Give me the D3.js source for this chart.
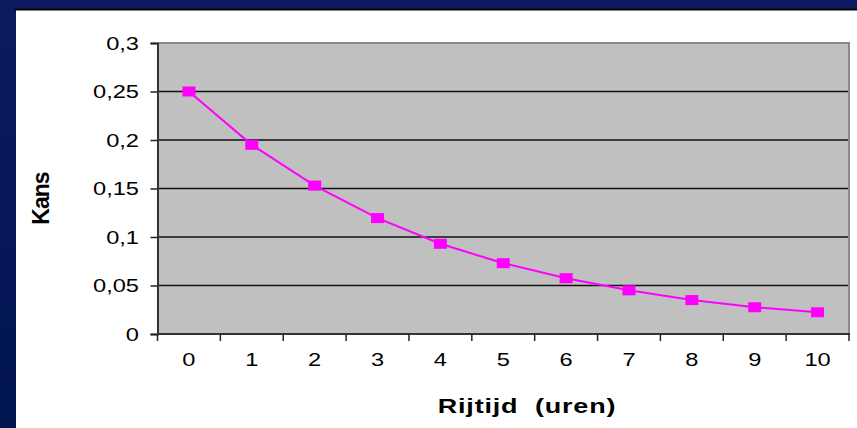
<!DOCTYPE html>
<html>
<head>
<meta charset="utf-8">
<script src="https://cdn.jsdelivr.net/npm/d3@7/dist/d3.min.js"></script>
<style>
  html, body { margin: 0; padding: 0; background: #0a1a5c; }
  svg { display: block; }
  text { white-space: pre; }
</style>
</head>
<body>
<svg id="chart" width="857" height="428"></svg>
<script>
// Kans per rijtijd (uren)
const categories = ["0", "1", "2", "3", "4", "5", "6", "7", "8", "9", "10"];
const kans = [0.25, 0.195, 0.153, 0.1195, 0.093, 0.073, 0.0575, 0.045, 0.035, 0.0276, 0.0224];
const yTickValues = [0, 0.05, 0.1, 0.15, 0.2, 0.25, 0.3];
const yTitle = "Kans";
const xTitle = "Rijtijd  (uren)";

const W = 857, H = 428;
const plot = { left: 157.5, right: 849, top: 43, bottom: 334 };
const stretch = 1.35;

const svg = d3.select("#chart");

// slide background
const defs = svg.append("defs");
const grad = defs.append("linearGradient").attr("id", "bg").attr("x1", 0).attr("y1", 0).attr("x2", 0).attr("y2", 1);
grad.append("stop").attr("offset", "0%").attr("stop-color", "#0c1b60");
grad.append("stop").attr("offset", "100%").attr("stop-color", "#001450");
svg.append("rect").attr("width", W).attr("height", H).attr("fill", "url(#bg)");

// white chart panel
svg.append("rect").attr("x", 16).attr("y", 10).attr("width", W - 16).attr("height", H - 10).attr("fill", "#ffffff");
svg.append("line").attr("x1", 15).attr("x2", W).attr("y1", 9.5).attr("y2", 9.5).attr("stroke", "#050505").attr("stroke-width", 2);

const x = d3.scaleBand().domain(categories).range([plot.left, plot.right]).padding(0);
const y = d3.scaleLinear().domain([0, 0.3]).range([plot.bottom, plot.top]);

// plot area
svg.append("rect")
  .attr("x", plot.left).attr("y", plot.top)
  .attr("width", plot.right - plot.left).attr("height", plot.bottom - plot.top)
  .attr("fill", "#c0c0c0");

// horizontal gridlines
svg.append("g").selectAll("line")
  .data(yTickValues.filter(v => v > 0 && v < 0.3))
  .join("line")
  .attr("x1", plot.left).attr("x2", plot.right)
  .attr("y1", d => y(d)).attr("y2", d => y(d))
  .attr("stroke", "#111").attr("stroke-width", 1.6);

// top and right border of plot area
svg.append("path")
  .attr("d", `M${plot.left},${plot.top} H${plot.right} V${plot.bottom}`)
  .attr("fill", "none").attr("stroke", "#8a8a8a").attr("stroke-width", 2);

const fmt = d => String(d).replace(".", ",");

// y axis
const yAxis = svg.append("g")
  .attr("transform", `translate(${plot.left},0)`)
  .call(d3.axisLeft(y).tickValues(yTickValues).tickSize(7).tickPadding(0).tickFormat(fmt));
yAxis.select(".domain").attr("stroke", "#333").attr("stroke-width", 2);
yAxis.selectAll(".tick line").attr("stroke", "#222").attr("stroke-width", 1.5);
yAxis.selectAll(".tick text")
  .attr("x", 0).attr("dy", null)
  .attr("dominant-baseline", "central")
  .attr("text-anchor", "end")
  .attr("transform", `translate(-18.5,0) scale(${stretch},1)`)
  .attr("font-family", "'Liberation Sans', Arial, sans-serif")
  .attr("font-size", 17.5).attr("fill", "#000");

// x axis: ticks on category boundaries
const xAxis = svg.append("g").attr("transform", `translate(0,${plot.bottom})`);
xAxis.append("line")
  .attr("x1", plot.left).attr("x2", plot.right + 1)
  .attr("stroke", "#333").attr("stroke-width", 2);
const bounds = categories.map(c => x(c)).concat([x(categories[categories.length - 1]) + x.bandwidth()]);
xAxis.selectAll(".xt").data(bounds).join("line").attr("class", "xt")
  .attr("x1", d => d).attr("x2", d => d).attr("y1", 0).attr("y2", 7)
  .attr("stroke", "#222").attr("stroke-width", 1.5);
xAxis.selectAll("text").data(categories).join("text")
  .attr("transform", d => `translate(${x(d) + x.bandwidth() / 2},31.5) scale(${stretch},1)`)
  .attr("text-anchor", "middle")
  .attr("font-family", "'Liberation Sans', Arial, sans-serif")
  .attr("font-size", 17.5).attr("fill", "#000")
  .text(d => d);

// series line
const line = d3.line()
  .x((d, i) => x(categories[i]) + x.bandwidth() / 2)
  .y(d => y(d));
svg.append("path").datum(kans)
  .attr("d", line)
  .attr("fill", "none").attr("stroke", "#ff00ff").attr("stroke-width", 2);

// square markers
svg.append("g").selectAll("rect").data(kans).join("rect")
  .attr("x", (d, i) => x(categories[i]) + x.bandwidth() / 2 - 6.5)
  .attr("y", d => y(d) - 5)
  .attr("width", 13).attr("height", 10)
  .attr("fill", "#ff00ff");

// axis titles
svg.append("text")
  .attr("transform", `translate(527,413) scale(${stretch},1)`)
  .attr("text-anchor", "middle")
  .attr("font-family", "'Liberation Sans', Arial, sans-serif")
  .attr("font-weight", "bold").attr("font-size", 20).attr("letter-spacing", 0.6).attr("fill", "#000")
  .text(xTitle);

svg.append("text")
  .attr("transform", "translate(48.5,198.5) rotate(-90)")
  .attr("text-anchor", "middle")
  .attr("font-family", "'Liberation Sans', Arial, sans-serif")
  .attr("font-weight", "bold").attr("font-size", 23).attr("letter-spacing", -1).attr("fill", "#000")
  .text(yTitle);
</script>
</body>
</html>
